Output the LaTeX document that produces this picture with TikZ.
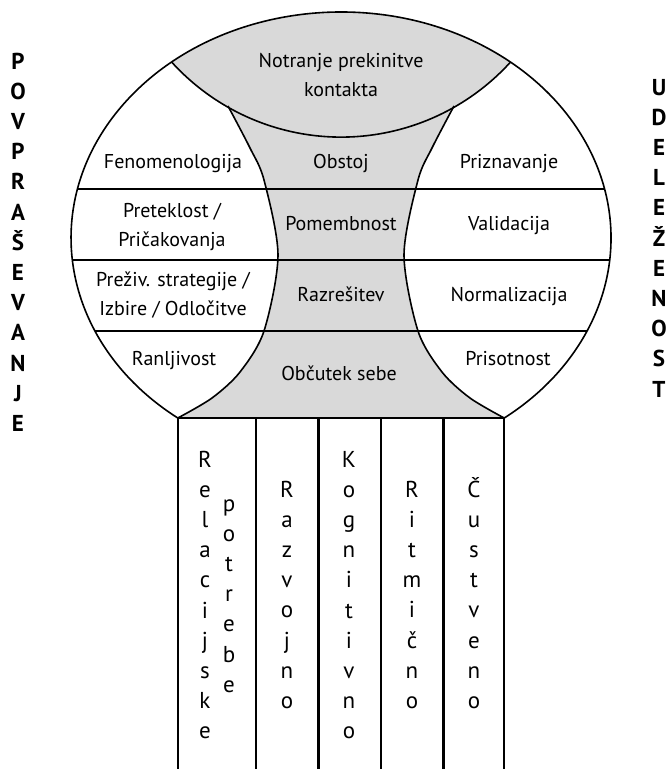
\documentclass[tikz,border=0pt]{standalone}
\usepackage{fontspec}
\setmainfont{PT Sans}

\definecolor{coregray}{RGB}{217,217,217}

% stack of letters: name, x, first baseline, style, letters
\newcommand{\letterstack}[5]{%
  \foreach \letterchar [count=\k] in {#5}
    \node[#4] (#1-\k) at (#2,{#3+30.2*(\k-1)}) {\letterchar};}

\begin{document}
\begin{tikzpicture}[x=1pt,y=-1pt,line join=round]
      \tikzstyle{border}=[line width=1.6pt]
      \tikzstyle{rule}=[line width=2pt]
      \tikzstyle{post}=[line width=2.4pt]
      \tikzstyle{field}=[font=\fontsize{20}{29}\selectfont,align=center,anchor=base,inner sep=0pt]
      \tikzstyle{letter}=[font=\fontsize{23}{23}\selectfont,anchor=base,inner sep=0pt]
      \tikzstyle{side letter}=[font=\fontsize{23}{23}\selectfont\bfseries,anchor=base,inner sep=0pt]

      \useasboundingbox (0,0) rectangle (670,769);

      % grey core and the rows
      \begin{scope}
        \clip (341,238) ellipse [x radius=270, y radius=226];
        \fill[coregray] (171.6,62) arc[start angle=137.8, end angle=42.2, radius=228.8]
          -- (510.4,0) -- (171.6,0) -- cycle;
        \fill[coregray] plot[smooth] coordinates {(228,106) (250,148) (264,180) (278,255) (264,331) (240,372) (212,398) (177.8,418)}
          -- plot[smooth] coordinates {(504.2,418) (470,398) (442,372) (418,331) (404,255) (418,180) (432,148) (454,106)}
          -- cycle;
        \draw[rule] (0,189) -- (670,189);
        \draw[rule] (0,260) -- (670,260);
        \draw[rule] (0,331) -- (670,331);
      \end{scope}

      % outlines
      \draw[border] (177.8,418) arc[start angle=127.2, end angle=412.8, x radius=270, y radius=226];
      \draw[border] (171.6,62) arc[start angle=137.8, end angle=42.2, radius=228.8];
      \draw[border] plot[smooth] coordinates {(228,106) (250,148) (264,180) (278,255) (264,331) (240,372) (212,398) (177.8,418)};
      \draw[border] plot[smooth] coordinates {(454,106) (432,148) (418,180) (404,255) (418,331) (442,372) (470,398) (504.2,418)};

      % the stem
      \draw[post] (177.8,769) -- (177.8,418) -- (504.2,418) -- (504.2,769);
      \foreach \x in {255.7,318.3,380.7,443.3}
        \draw[post] (\x,418) -- (\x,769);

      % texts in the circle
      \node[field] (notranje) at (341,96) {Notranje prekinitve\\kontakta};
      \node[field] (fenomenologija) at (173,168) {Fenomenologija};
      \node[field] (obstoj) at (341,168) {Obstoj};
      \node[field] (priznavanje) at (509,168) {Priznavanje};
      \node[field] (preteklost) at (172,246) {Preteklost /\\Pričakovanja};
      \node[field] (pomembnost) at (341,230) {Pomembnost};
      \node[field] (validacija) at (509,230) {Validacija};
      \node[field] (strategije) at (173,315) {Preživ. strategije /\\Izbire / Odločitve};
      \node[field] (razresitev) at (341,301) {Razrešitev};
      \node[field] (normalizacija) at (509,301) {Normalizacija};
      \node[field] (ranljivost) at (174,365) {Ranljivost};
      \node[field] (obcutek) at (339,380) {Občutek sebe};
      \node[field] (prisotnost) at (508,365) {Prisotnost};

      % texts in the stem
      \letterstack{relacijske}{205}{467}{letter}{R,e,l,a,c,i,j,s,k,e}
      \letterstack{potrebe}{229}{511}{letter}{p,o,t,r,e,b,e}
      \letterstack{razvojno}{287}{497}{letter}{R,a,z,v,o,j,n,o}
      \letterstack{kognitivno}{349}{467}{letter}{K,o,g,n,i,t,i,v,n,o}
      \letterstack{ritmicno}{412}{497}{letter}{R,i,t,m,i,č,n,o}
      \letterstack{custveno}{474}{497}{letter}{Č,u,s,t,v,e,n,o}

      % side words
      \letterstack{povprasevanje}{18}{69}{side letter}{P,O,V,P,R,A,Š,E,V,A,N,J,E}
      \letterstack{udelezenost}{659}{95}{side letter}{U,D,E,L,E,Ž,E,N,O,S,T}
\end{tikzpicture}
\end{document}
